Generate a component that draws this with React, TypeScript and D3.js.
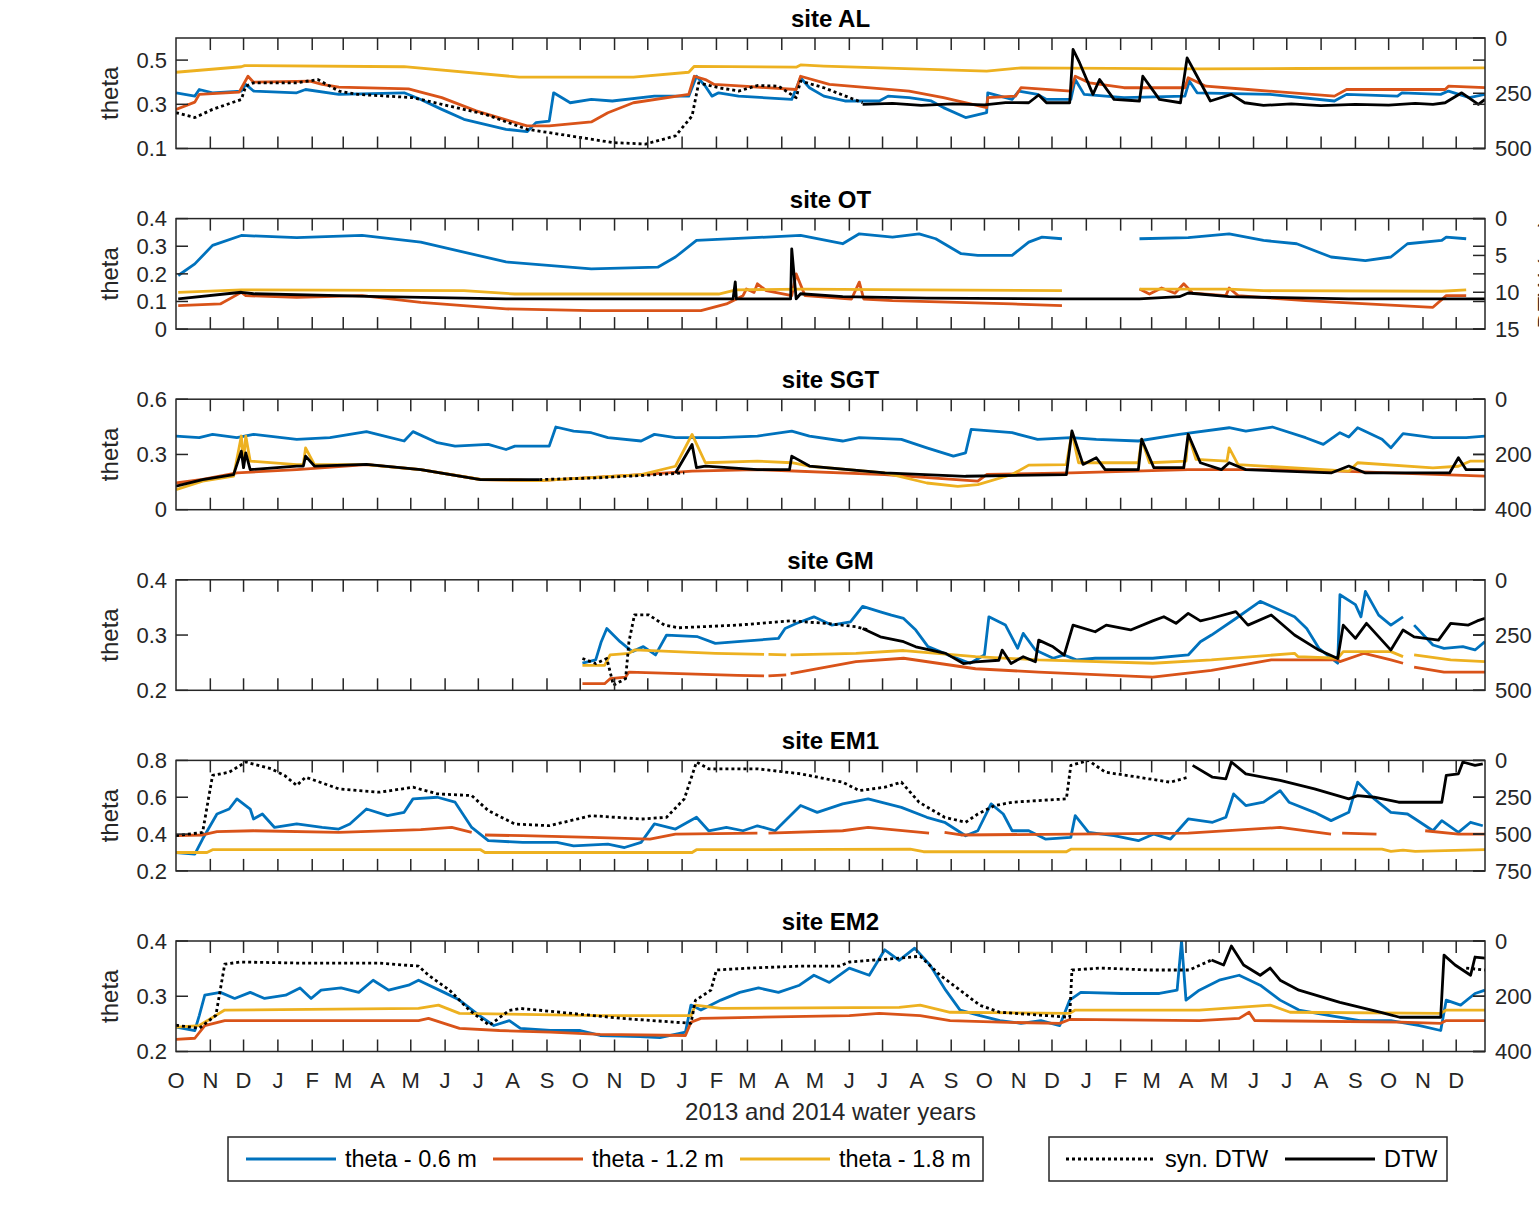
import * as d3 from 'd3';

type Pt = [string, number | null];

// ---------- axes / labels ----------
const MONTH_LETTERS = ['J', 'F', 'M', 'A', 'M', 'J', 'J', 'A', 'S', 'O', 'N', 'D'];
const X_START = '2012-10-01';
const X_END = '2015-12-27';
const X_LABEL = '2013 and 2014 water years';
const THETA_LABEL = 'theta';
const DTW_LABEL = 'DTW (cm)';
const SITES = ['site AL', 'site OT', 'site SGT', 'site GM', 'site EM1', 'site EM2'];
const THETA_DOMAINS = [[0.1, 0.6], [0, 0.4], [0, 0.6], [0.2, 0.4], [0.2, 0.8], [0.2, 0.4]];
const THETA_TICKS = [[0.1, 0.3, 0.5], [0, 0.1, 0.2, 0.3, 0.4], [0, 0.3, 0.6], [0.2, 0.3, 0.4], [0.2, 0.4, 0.6, 0.8], [0.2, 0.3, 0.4]];
const DTW_DOMAINS = [[0, 500], [0, 15], [0, 400], [0, 500], [0, 750], [0, 400]];
const DTW_TICKS = [[0, 250, 500], [0, 5, 10, 15], [0, 200, 400], [0, 250, 500], [0, 250, 500, 750], [0, 200, 400]];
const THETA_NAMES = ['theta - 0.6 m', 'theta - 1.2 m', 'theta - 1.8 m'];
const DTW_NAMES = ['syn. DTW', 'DTW'];

// ---------- site AL ----------
const AL_T06: Pt[] = [['2012-10-01', 0.352], ['2012-10-18', 0.337], ['2012-10-22', 0.367], ['2012-11-03', 0.352], ['2012-11-29', 0.36], ['2012-12-03', 0.39], ['2012-12-10', 0.36], ['2013-01-18', 0.352], ['2013-01-26', 0.367], ['2013-02-25', 0.345], ['2013-04-25', 0.352], ['2013-05-10', 0.322], ['2013-05-29', 0.277], ['2013-06-18', 0.232], ['2013-07-26', 0.187], ['2013-08-14', 0.176], ['2013-08-22', 0.217], ['2013-09-03', 0.224], ['2013-09-07', 0.352], ['2013-09-22', 0.307], ['2013-10-11', 0.322], ['2013-10-30', 0.315], ['2013-12-07', 0.337], ['2014-01-07', 0.337], ['2014-01-14', 0.427], ['2014-01-22', 0.382], ['2014-01-28', 0.337], ['2014-02-03', 0.352], ['2014-02-21', 0.337], ['2014-04-10', 0.322], ['2014-04-18', 0.42], ['2014-04-26', 0.375], ['2014-05-09', 0.337], ['2014-05-28', 0.315], ['2014-06-28', 0.315], ['2014-07-06', 0.337], ['2014-07-25', 0.33], ['2014-08-14', 0.315], ['2014-08-25', 0.285], ['2014-09-14', 0.24], ['2014-10-03', 0.262], ['2014-10-04', 0.352], ['2014-10-26', 0.322], ['2014-11-01', 0.36], ['2014-11-18', 0.345], ['2014-11-26', 0.322], ['2014-12-18', 0.322], ['2014-12-22', 0.412], ['2014-12-30', 0.345], ['2015-02-04', 0.33], ['2015-03-31', 0.337], ['2015-04-04', 0.405], ['2015-04-11', 0.352], ['2015-06-16', 0.345], ['2015-08-13', 0.315], ['2015-08-24', 0.345], ['2015-10-09', 0.337], ['2015-10-13', 0.352], ['2015-11-17', 0.345], ['2015-11-24', 0.36], ['2015-12-13', 0.33], ['2015-12-27', 0.345]];
const AL_T12: Pt[] = [['2012-10-01', 0.277], ['2012-10-18', 0.31], ['2012-10-22', 0.345], ['2012-11-27', 0.355], ['2012-12-05', 0.427], ['2012-12-10', 0.40], ['2013-01-30', 0.405], ['2013-02-10', 0.39], ['2013-02-25', 0.378], ['2013-04-29', 0.37], ['2013-05-10', 0.355], ['2013-05-29', 0.33], ['2013-06-29', 0.27], ['2013-08-14', 0.202], ['2013-09-03', 0.202], ['2013-10-11', 0.22], ['2013-10-26', 0.262], ['2013-11-18', 0.307], ['2014-01-07', 0.345], ['2014-01-12', 0.427], ['2014-01-22', 0.412], ['2014-01-30', 0.39], ['2014-02-25', 0.382], ['2014-04-14', 0.367], ['2014-04-18', 0.427], ['2014-05-14', 0.39], ['2014-07-25', 0.36], ['2014-08-25', 0.33], ['2014-10-03', 0.285], ['2014-10-04', 0.33], ['2014-10-29', 0.337], ['2014-11-03', 0.375], ['2014-12-18', 0.36], ['2014-12-22', 0.427], ['2015-01-04', 0.397], ['2015-02-04', 0.375], ['2015-03-31', 0.375], ['2015-04-03', 0.42], ['2015-04-19', 0.382], ['2015-05-27', 0.367], ['2015-08-13', 0.337], ['2015-08-24', 0.367], ['2015-11-21', 0.367], ['2015-11-24', 0.382], ['2015-12-27', 0.375]];
const AL_T18: Pt[] = [['2012-10-01', 0.445], ['2012-11-29', 0.47], ['2012-12-02', 0.475], ['2013-04-25', 0.47], ['2013-08-07', 0.423], ['2013-11-18', 0.423], ['2014-01-07', 0.445], ['2014-01-12', 0.472], ['2014-04-14', 0.468], ['2014-04-18', 0.478], ['2014-05-09', 0.473], ['2014-10-03', 0.45], ['2014-11-03', 0.465], ['2015-04-13', 0.46], ['2015-07-12', 0.462], ['2015-12-27', 0.465]];
const AL_SYN: Pt[] = [['2012-10-01', 338], ['2012-10-18', 360], ['2012-11-03', 323], ['2012-11-29', 278], ['2012-12-03', 218], ['2012-12-10', 203], ['2013-01-18', 203], ['2013-02-06', 188], ['2013-02-25', 240], ['2013-03-14', 255], ['2013-05-03', 270], ['2013-05-29', 300], ['2013-07-07', 345], ['2013-08-14', 413], ['2013-09-22', 443], ['2013-10-30', 473], ['2013-11-29', 480], ['2013-12-26', 443], ['2014-01-10', 353], ['2014-01-16', 203], ['2014-02-03', 225], ['2014-02-21', 240], ['2014-03-10', 215], ['2014-03-29', 218], ['2014-04-14', 270], ['2014-04-18', 195], ['2014-05-09', 225], ['2014-06-13', 293]];
const AL_DTW: Pt[] = [['2014-06-13', 300], ['2014-07-10', 296], ['2014-08-05', 305], ['2014-09-02', 298], ['2014-10-01', 303], ['2014-10-20', 292], ['2014-11-10', 293], ['2014-11-19', 258], ['2014-11-26', 293], ['2014-12-17', 293], ['2014-12-20', 52], ['2014-12-26', 113], ['2015-01-07', 255], ['2015-01-13', 188], ['2015-01-26', 278], ['2015-02-18', 285], ['2015-02-21', 173], ['2015-03-08', 278], ['2015-03-27', 293], ['2015-04-02', 90], ['2015-04-11', 173], ['2015-04-23', 285], ['2015-05-12', 255], ['2015-05-24', 293], ['2015-06-10', 305], ['2015-07-05', 298], ['2015-08-01', 306], ['2015-09-01', 300], ['2015-10-01', 304], ['2015-10-25', 296], ['2015-11-10', 300], ['2015-11-21', 293], ['2015-12-06', 248], ['2015-12-21', 300], ['2015-12-27', 278]];

// ---------- site OT ----------
const OT_T06: Pt[] = [['2012-10-03', 0.194], ['2012-10-18', 0.236], ['2012-11-03', 0.303], ['2012-11-29', 0.339], ['2013-01-18', 0.331], ['2013-03-18', 0.339], ['2013-05-10', 0.315], ['2013-07-26', 0.243], ['2013-10-11', 0.218], ['2013-12-10', 0.224], ['2013-12-26', 0.261], ['2014-01-14', 0.321], ['2014-04-18', 0.339], ['2014-05-26', 0.309], ['2014-06-10', 0.345], ['2014-07-10', 0.333], ['2014-08-03', 0.345], ['2014-08-18', 0.327], ['2014-09-10', 0.273], ['2014-09-25', 0.267], ['2014-10-26', 0.267], ['2014-11-10', 0.315], ['2014-11-22', 0.333], ['2014-12-10', 0.327], ['2015-01-15', null], ['2015-02-18', 0.327], ['2015-04-03', 0.331], ['2015-05-10', 0.345], ['2015-06-10', 0.321], ['2015-07-10', 0.309], ['2015-08-10', 0.261], ['2015-09-10', 0.248], ['2015-10-03', 0.261], ['2015-10-18', 0.309], ['2015-11-18', 0.321], ['2015-11-22', 0.333], ['2015-12-10', 0.327]];
const OT_T12: Pt[] = [['2012-10-03', 0.085], ['2012-11-10', 0.091], ['2012-11-29', 0.133], ['2012-12-03', 0.121], ['2013-01-18', 0.115], ['2013-03-18', 0.121], ['2013-05-10', 0.097], ['2013-07-26', 0.073], ['2013-10-11', 0.067], ['2014-01-18', 0.067], ['2014-02-10', 0.091], ['2014-02-25', 0.121], ['2014-02-28', 0.145], ['2014-03-07', 0.133], ['2014-03-10', 0.164], ['2014-03-18', 0.139], ['2014-04-10', 0.121], ['2014-04-14', 0.2], ['2014-04-22', 0.121], ['2014-06-03', 0.109], ['2014-06-10', 0.17], ['2014-06-14', 0.109], ['2014-07-10', 0.103], ['2014-10-26', 0.091], ['2014-12-10', 0.085], ['2015-01-15', null], ['2015-02-18', 0.145], ['2015-02-27', 0.127], ['2015-03-10', 0.149], ['2015-03-22', 0.13], ['2015-03-30', 0.164], ['2015-04-07', 0.13], ['2015-05-07', 0.121], ['2015-05-10', 0.149], ['2015-05-18', 0.121], ['2015-07-18', 0.103], ['2015-11-10', 0.079], ['2015-11-22', 0.121], ['2015-12-10', 0.121]];
const OT_T18: Pt[] = [['2012-10-03', 0.133], ['2012-11-29', 0.142], ['2013-06-18', 0.139], ['2013-08-03', 0.127], ['2014-02-03', 0.127], ['2014-02-16', 0.139], ['2014-02-19', 0.142], ['2014-04-18', 0.145], ['2014-08-03', 0.142], ['2014-12-10', 0.139], ['2015-01-15', null], ['2015-02-18', 0.145], ['2015-05-10', 0.145], ['2015-06-10', 0.139], ['2015-11-18', 0.137], ['2015-12-10', 0.142]];
const OT_SYN: Pt[] = [];
const OT_DTW: Pt[] = [['2012-10-03', 10.9], ['2012-11-29', 10.0], ['2012-12-10', 10.2], ['2013-02-25', 10.45], ['2013-04-03', 10.6], ['2013-07-26', 10.9], ['2014-02-16', 10.9], ['2014-02-18', 8.6], ['2014-02-19', 10.9], ['2014-04-09', 10.9], ['2014-04-10', 4.1], ['2014-04-14', 10.9], ['2014-04-18', 10.2], ['2014-05-26', 10.6], ['2014-08-10', 10.8], ['2014-12-10', 10.9], ['2015-02-18', 10.9], ['2015-03-26', 10.6], ['2015-04-03', 10.1], ['2015-05-10', 10.6], ['2015-08-26', 10.9], ['2015-12-27', 10.9]];

// ---------- site SGT ----------
const SGT_T06: Pt[] = [['2012-10-01', 0.40], ['2012-10-22', 0.391], ['2012-11-03', 0.409], ['2012-11-25', 0.391], ['2012-12-10', 0.409], ['2013-01-18', 0.382], ['2013-02-17', 0.391], ['2013-03-22', 0.424], ['2013-04-10', 0.395], ['2013-04-25', 0.373], ['2013-05-03', 0.424], ['2013-05-25', 0.364], ['2013-06-10', 0.345], ['2013-07-10', 0.355], ['2013-07-26', 0.327], ['2013-08-03', 0.345], ['2013-09-03', 0.345], ['2013-09-09', 0.449], ['2013-09-25', 0.427], ['2013-10-11', 0.418], ['2013-10-26', 0.391], ['2013-11-25', 0.373], ['2013-12-07', 0.409], ['2013-12-26', 0.391], ['2014-02-03', 0.391], ['2014-03-10', 0.40], ['2014-04-10', 0.427], ['2014-04-26', 0.40], ['2014-05-26', 0.373], ['2014-06-10', 0.391], ['2014-07-18', 0.382], ['2014-08-10', 0.336], ['2014-09-03', 0.291], ['2014-09-14', 0.309], ['2014-09-19', 0.436], ['2014-10-26', 0.418], ['2014-11-18', 0.382], ['2014-12-18', 0.391], ['2015-01-10', 0.382], ['2015-02-17', 0.373], ['2015-03-26', 0.409], ['2015-05-10', 0.445], ['2015-05-25', 0.427], ['2015-06-18', 0.449], ['2015-07-18', 0.391], ['2015-08-03', 0.355], ['2015-08-18', 0.418], ['2015-08-26', 0.395], ['2015-09-03', 0.445], ['2015-09-25', 0.382], ['2015-10-03', 0.336], ['2015-10-14', 0.413], ['2015-11-10', 0.391], ['2015-12-10', 0.391], ['2015-12-27', 0.40]];
const SGT_T12: Pt[] = [['2012-10-01', 0.145], ['2012-10-25', 0.164], ['2012-11-25', 0.20], ['2013-01-18', 0.218], ['2013-03-22', 0.245], ['2013-05-10', 0.218], ['2013-07-03', 0.164], ['2013-08-25', 0.158], ['2013-11-25', 0.191], ['2014-01-10', 0.209], ['2014-03-10', 0.218], ['2014-07-03', 0.191], ['2014-09-25', 0.155], ['2014-10-03', 0.191], ['2014-12-18', 0.20], ['2015-04-03', 0.218], ['2015-07-10', 0.218], ['2015-10-03', 0.20], ['2015-12-27', 0.182]];
const SGT_T18: Pt[] = [['2012-10-01', 0.109], ['2012-10-25', 0.155], ['2012-11-22', 0.182], ['2012-11-29', 0.40], ['2012-12-01', 0.264], ['2012-12-03', 0.40], ['2012-12-07', 0.264], ['2013-01-18', 0.245], ['2013-01-24', 0.245], ['2013-01-26', 0.336], ['2013-02-03', 0.245], ['2013-03-22', 0.245], ['2013-05-10', 0.218], ['2013-07-03', 0.164], ['2013-08-25', 0.158], ['2013-11-25', 0.191], ['2013-12-26', 0.236], ['2014-01-10', 0.409], ['2014-01-22', 0.255], ['2014-03-10', 0.264], ['2014-04-10', 0.255], ['2014-04-26', 0.236], ['2014-07-03', 0.20], ['2014-08-10', 0.145], ['2014-09-07', 0.127], ['2014-09-25', 0.136], ['2014-10-26', 0.191], ['2014-11-10', 0.242], ['2014-12-14', 0.245], ['2014-12-19', 0.418], ['2014-12-25', 0.255], ['2015-02-17', 0.255], ['2015-02-20', 0.382], ['2015-02-27', 0.255], ['2015-04-01', 0.264], ['2015-04-03', 0.409], ['2015-04-10', 0.273], ['2015-05-08', 0.264], ['2015-05-10', 0.336], ['2015-05-18', 0.245], ['2015-08-26', 0.209], ['2015-09-03', 0.255], ['2015-11-10', 0.227], ['2015-12-03', 0.236], ['2015-12-14', 0.264], ['2015-12-27', 0.264]];
const SGT_SYN: Pt[] = [['2013-08-25', 291], ['2013-10-15', 285], ['2013-12-01', 275], ['2014-01-03', 267]];
const SGT_DTW: Pt[] = [['2012-10-01', 315], ['2012-10-25', 291], ['2012-11-22', 273], ['2012-11-29', 188], ['2012-12-01', 248], ['2012-12-03', 194], ['2012-12-07', 255], ['2013-01-18', 242], ['2013-01-24', 242], ['2013-01-26', 206], ['2013-02-03', 242], ['2013-03-22', 236], ['2013-05-10', 255], ['2013-07-03', 291], ['2013-08-25', 291], ['2013-10-15', null], ['2013-12-26', 267], ['2014-01-10', 164], ['2014-01-14', 248], ['2014-01-22', 242], ['2014-03-10', 255], ['2014-04-08', 255], ['2014-04-10', 206], ['2014-04-26', 242], ['2014-07-03', 267], ['2014-09-14', 279], ['2014-12-14', 273], ['2014-12-19', 115], ['2014-12-29', 236], ['2015-01-10', 212], ['2015-01-18', 255], ['2015-02-17', 255], ['2015-02-20', 145], ['2015-03-03', 248], ['2015-03-30', 248], ['2015-04-03', 127], ['2015-04-14', 230], ['2015-05-03', 255], ['2015-05-10', 230], ['2015-05-25', 255], ['2015-08-10', 267], ['2015-08-26', 242], ['2015-09-10', 267], ['2015-11-25', 267], ['2015-12-03', 212], ['2015-12-10', 255], ['2015-12-27', 255]];

// ---------- site GM ----------
const GM_T06: Pt[] = [['2013-10-03', 0.249], ['2013-10-15', 0.255], ['2013-10-20', 0.288], ['2013-10-25', 0.312], ['2013-11-06', 0.288], ['2013-11-17', 0.27], ['2013-11-27', 0.279], ['2013-12-08', 0.264], ['2013-12-18', 0.30], ['2014-01-15', 0.297], ['2014-01-31', 0.285], ['2014-02-20', 0.288], ['2014-03-29', 0.294], ['2014-04-04', 0.312], ['2014-04-14', 0.321], ['2014-04-30', 0.333], ['2014-05-16', 0.318], ['2014-06-02', 0.324], ['2014-06-13', 0.352], ['2014-06-29', 0.342], ['2014-07-09', 0.336], ['2014-07-20', 0.33], ['2014-07-31', 0.309], ['2014-08-11', 0.279], ['2014-09-02', 0.261], ['2014-09-18', 0.249], ['2014-10-01', 0.264], ['2014-10-05', 0.333], ['2014-10-20', 0.318], ['2014-10-31', 0.276], ['2014-11-05', 0.303], ['2014-11-16', 0.273], ['2014-12-02', 0.258], ['2014-12-12', 0.264], ['2014-12-23', 0.255], ['2015-01-09', 0.258], ['2015-03-02', 0.258], ['2015-04-03', 0.264], ['2015-04-14', 0.288], ['2015-04-24', 0.30], ['2015-05-16', 0.33], ['2015-06-07', 0.361], ['2015-06-17', 0.352], ['2015-07-08', 0.333], ['2015-07-19', 0.312], ['2015-07-30', 0.276], ['2015-08-16', 0.249], ['2015-08-18', 0.373], ['2015-09-01', 0.355], ['2015-09-06', 0.333], ['2015-09-10', 0.379], ['2015-09-22', 0.336], ['2015-10-03', 0.318], ['2015-10-14', 0.333], ['2015-10-18', null], ['2015-10-24', 0.318], ['2015-11-10', 0.282], ['2015-11-20', 0.276], ['2015-12-07', 0.279], ['2015-12-18', 0.273], ['2015-12-27', 0.288]];
const GM_T12: Pt[] = [['2013-10-03', 0.212], ['2013-10-23', 0.212], ['2013-10-28', 0.221], ['2013-11-11', 0.224], ['2013-11-14', 0.233], ['2014-02-20', 0.227], ['2014-03-16', 0.226], ['2014-03-18', null], ['2014-03-20', 0.226], ['2014-04-05', 0.228], ['2014-04-07', null], ['2014-04-09', 0.23], ['2014-06-07', 0.252], ['2014-07-20', 0.258], ['2014-09-23', 0.239], ['2014-11-19', 0.233], ['2015-03-02', 0.224], ['2015-04-24', 0.236], ['2015-06-17', 0.255], ['2015-08-16', 0.255], ['2015-08-18', 0.252], ['2015-09-09', 0.267], ['2015-10-03', 0.255], ['2015-10-14', 0.249], ['2015-10-18', null], ['2015-10-24', 0.242], ['2015-11-20', 0.233], ['2015-12-27', 0.233]];
const GM_T18: Pt[] = [['2013-10-03', 0.245], ['2013-10-23', 0.245], ['2013-10-28', 0.264], ['2013-11-14', 0.267], ['2013-11-19', 0.273], ['2014-01-31', 0.267], ['2014-03-16', 0.265], ['2014-03-18', null], ['2014-03-20', 0.265], ['2014-04-05', 0.264], ['2014-04-07', null], ['2014-04-09', 0.264], ['2014-06-07', 0.267], ['2014-07-20', 0.272], ['2014-09-23', 0.261], ['2014-11-19', 0.255], ['2015-03-02', 0.249], ['2015-04-24', 0.255], ['2015-07-08', 0.267], ['2015-07-11', 0.261], ['2015-08-16', 0.258], ['2015-08-21', 0.27], ['2015-10-03', 0.27], ['2015-10-14', 0.261], ['2015-10-18', null], ['2015-10-24', 0.264], ['2015-11-26', 0.255], ['2015-12-27', 0.252]];
const GM_SYN: Pt[] = [['2013-10-03', 356], ['2013-10-15', 379], ['2013-10-25', 356], ['2013-10-31', 477], ['2013-11-11', 447], ['2013-11-14', 280], ['2013-11-19', 159], ['2013-12-02', 159], ['2013-12-16', 205], ['2013-12-29', 217], ['2014-02-20', 205], ['2014-04-09', 186], ['2014-05-11', 197], ['2014-06-07', 212], ['2014-06-18', 227]];
const GM_DTW: Pt[] = [['2014-06-13', 220], ['2014-06-29', 258], ['2014-07-20', 280], ['2014-07-31', 303], ['2014-08-27', 333], ['2014-09-12', 379], ['2014-09-23', 371], ['2014-10-14', 364], ['2014-10-17', 318], ['2014-10-25', 379], ['2014-11-05', 348], ['2014-11-16', 371], ['2014-11-19', 273], ['2014-12-02', 303], ['2014-12-12', 341], ['2014-12-20', 205], ['2015-01-09', 235], ['2015-01-19', 205], ['2015-02-10', 227], ['2015-03-02', 186], ['2015-03-12', 167], ['2015-03-23', 197], ['2015-04-03', 152], ['2015-04-14', 186], ['2015-04-24', 174], ['2015-05-16', 144], ['2015-05-27', 205], ['2015-06-17', 159], ['2015-07-08', 250], ['2015-07-30', 318], ['2015-08-16', 356], ['2015-08-21', 205], ['2015-09-01', 265], ['2015-09-11', 197], ['2015-10-03', 318], ['2015-10-14', 227], ['2015-10-24', 258], ['2015-11-15', 273], ['2015-11-26', 197], ['2015-12-12', 205], ['2015-12-20', 186], ['2015-12-27', 174]];

// ---------- site EM1 ----------
const EM1_T06: Pt[] = [['2012-10-01', 0.30], ['2012-10-18', 0.291], ['2012-10-25', 0.373], ['2012-11-07', 0.509], ['2012-11-18', 0.536], ['2012-11-25', 0.591], ['2012-12-07', 0.536], ['2012-12-10', 0.482], ['2012-12-18', 0.509], ['2012-12-29', 0.436], ['2013-01-18', 0.455], ['2013-02-10', 0.436], ['2013-02-25', 0.427], ['2013-03-07', 0.455], ['2013-03-22', 0.536], ['2013-04-10', 0.50], ['2013-04-25', 0.518], ['2013-05-03', 0.591], ['2013-05-25', 0.60], ['2013-06-10', 0.573], ['2013-06-25', 0.436], ['2013-07-10', 0.364], ['2013-08-10', 0.355], ['2013-09-10', 0.355], ['2013-09-25', 0.336], ['2013-10-26', 0.345], ['2013-11-10', 0.327], ['2013-11-25', 0.355], ['2013-12-07', 0.455], ['2013-12-26', 0.427], ['2014-01-14', 0.491], ['2014-01-25', 0.418], ['2014-02-10', 0.436], ['2014-02-25', 0.418], ['2014-03-10', 0.445], ['2014-03-26', 0.418], ['2014-04-18', 0.555], ['2014-05-03', 0.518], ['2014-05-26', 0.564], ['2014-06-18', 0.591], ['2014-07-18', 0.545], ['2014-08-10', 0.491], ['2014-08-26', 0.464], ['2014-09-14', 0.391], ['2014-09-25', 0.418], ['2014-10-07', 0.564], ['2014-10-18', 0.509], ['2014-10-26', 0.418], ['2014-11-10', 0.418], ['2014-11-25', 0.373], ['2014-12-18', 0.382], ['2014-12-22', 0.50], ['2015-01-03', 0.409], ['2015-01-26', 0.391], ['2015-02-17', 0.364], ['2015-03-03', 0.40], ['2015-03-18', 0.373], ['2015-04-03', 0.482], ['2015-04-25', 0.464], ['2015-05-07', 0.491], ['2015-05-14', 0.618], ['2015-05-25', 0.555], ['2015-06-10', 0.573], ['2015-06-25', 0.636], ['2015-07-03', 0.573], ['2015-07-26', 0.518], ['2015-08-10', 0.473], ['2015-08-26', 0.518], ['2015-09-03', 0.682], ['2015-09-18', 0.591], ['2015-10-03', 0.518], ['2015-10-18', 0.509], ['2015-10-25', 0.482], ['2015-11-10', 0.418], ['2015-11-18', 0.473], ['2015-12-03', 0.409], ['2015-12-14', 0.464], ['2015-12-25', 0.445]];
const EM1_T12: Pt[] = [['2012-10-01', 0.391], ['2012-10-25', 0.395], ['2012-11-07', 0.413], ['2012-12-10', 0.418], ['2013-02-25', 0.409], ['2013-05-10', 0.424], ['2013-06-07', 0.436], ['2013-06-25', 0.409], ['2013-06-30', null], ['2013-07-07', 0.395], ['2013-08-10', 0.391], ['2013-10-11', 0.382], ['2013-12-03', 0.373], ['2013-12-26', 0.40], ['2014-03-10', 0.405], ['2014-03-14', null], ['2014-03-20', 0.405], ['2014-05-26', 0.418], ['2014-06-18', 0.436], ['2014-08-12', 0.405], ['2014-08-18', null], ['2014-08-26', 0.409], ['2014-09-10', 0.395], ['2014-12-18', 0.40], ['2015-04-03', 0.405], ['2015-06-25', 0.436], ['2015-08-10', 0.40], ['2015-08-14', null], ['2015-08-20', 0.405], ['2015-09-20', 0.40], ['2015-10-01', null], ['2015-11-03', 0.418], ['2015-12-03', 0.40], ['2015-12-27', 0.40]];
const EM1_T18: Pt[] = [['2012-10-01', 0.30], ['2012-10-29', 0.30], ['2012-11-03', 0.315], ['2013-07-03', 0.315], ['2013-07-07', 0.30], ['2014-01-10', 0.30], ['2014-01-14', 0.315], ['2014-07-26', 0.318], ['2014-08-07', 0.304], ['2014-12-14', 0.304], ['2014-12-18', 0.318], ['2015-09-25', 0.318], ['2015-10-03', 0.306], ['2015-10-14', 0.313], ['2015-10-25', 0.306], ['2015-12-27', 0.315]];
const EM1_SYN: Pt[] = [['2012-10-01', 511], ['2012-10-25', 489], ['2012-11-03', 102], ['2012-11-18', 80], ['2012-12-03', 11], ['2012-12-26', 57], ['2013-01-07', 102], ['2013-01-18', 170], ['2013-01-26', 114], ['2013-02-25', 193], ['2013-04-03', 216], ['2013-05-03', 182], ['2013-05-25', 227], ['2013-06-25', 239], ['2013-07-10', 341], ['2013-08-03', 432], ['2013-09-03', 443], ['2013-10-11', 375], ['2013-11-25', 398], ['2013-12-18', 386], ['2014-01-03', 261], ['2014-01-14', 11], ['2014-01-25', 57], ['2014-03-10', 57], ['2014-04-18', 91], ['2014-05-26', 148], ['2014-06-10', 205], ['2014-07-03', 182], ['2014-07-18', 148], ['2014-08-03', 284], ['2014-08-26', 386], ['2014-09-14', 420], ['2014-09-25', 364], ['2014-10-10', 307], ['2014-10-26', 284], ['2014-12-14', 261], ['2014-12-18', 34], ['2015-01-03', 0], ['2015-01-18', 80], ['2015-02-17', 114], ['2015-03-18', 148], ['2015-04-03', 114]];
const EM1_DTW: Pt[] = [['2015-04-07', 34], ['2015-04-25', 114], ['2015-05-07', 125], ['2015-05-12', 11], ['2015-05-25', 91], ['2015-06-25', 136], ['2015-07-26', 193], ['2015-08-26', 261], ['2015-09-03', 239], ['2015-09-18', 250], ['2015-10-10', 284], ['2015-11-18', 284], ['2015-11-22', 102], ['2015-12-03', 91], ['2015-12-07', 11], ['2015-12-18', 34], ['2015-12-25', 23]];

// ---------- site EM2 ----------
const EM2_T06: Pt[] = [['2012-10-01', 0.244], ['2012-10-18', 0.238], ['2012-10-22', 0.265], ['2012-10-27', 0.302], ['2012-11-10', 0.307], ['2012-11-23', 0.296], ['2012-12-07', 0.307], ['2012-12-20', 0.296], ['2013-01-08', 0.302], ['2013-01-21', 0.315], ['2013-01-31', 0.296], ['2013-02-09', 0.311], ['2013-02-27', 0.315], ['2013-03-15', 0.307], ['2013-03-28', 0.329], ['2013-04-11', 0.311], ['2013-04-29', 0.32], ['2013-05-08', 0.329], ['2013-05-31', 0.307], ['2013-06-14', 0.293], ['2013-07-02', 0.265], ['2013-07-15', 0.247], ['2013-07-29', 0.256], ['2013-08-08', 0.242], ['2013-09-04', 0.238], ['2013-10-01', 0.238], ['2013-10-19', 0.229], ['2013-11-24', 0.227], ['2013-12-12', 0.225], ['2014-01-04', 0.235], ['2014-01-09', 0.284], ['2014-01-18', 0.275], ['2014-02-05', 0.293], ['2014-02-22', 0.307], ['2014-03-11', 0.315], ['2014-03-29', 0.307], ['2014-04-17', 0.32], ['2014-04-30', 0.338], ['2014-05-14', 0.325], ['2014-06-01', 0.351], ['2014-06-19', 0.338], ['2014-07-03', 0.384], ['2014-07-16', 0.365], ['2014-07-30', 0.387], ['2014-08-13', 0.356], ['2014-08-27', 0.311], ['2014-09-09', 0.275], ['2014-09-27', 0.265], ['2014-10-15', 0.256], ['2014-11-03', 0.251], ['2014-11-21', 0.256], ['2014-12-08', 0.247], ['2014-12-17', 0.293], ['2014-12-27', 0.307], ['2015-02-02', 0.305], ['2015-03-08', 0.305], ['2015-03-24', 0.311], ['2015-03-28', 0.40], ['2015-04-01', 0.293], ['2015-04-13', 0.311], ['2015-05-01', 0.329], ['2015-05-19', 0.338], ['2015-06-07', 0.32], ['2015-06-25', 0.293], ['2015-07-12', 0.275], ['2015-08-09', 0.265], ['2015-09-05', 0.256], ['2015-10-03', 0.256], ['2015-10-29', 0.247], ['2015-11-17', 0.238], ['2015-11-22', 0.293], ['2015-12-05', 0.284], ['2015-12-18', 0.305], ['2015-12-27', 0.311]];
const EM2_T12: Pt[] = [['2012-10-01', 0.222], ['2012-10-18', 0.224], ['2012-10-27', 0.247], ['2012-11-14', 0.256], ['2013-05-08', 0.256], ['2013-05-17', 0.26], ['2013-06-14', 0.242], ['2013-07-20', 0.238], ['2013-09-04', 0.235], ['2013-10-19', 0.231], ['2014-01-04', 0.229], ['2014-01-09', 0.253], ['2014-01-18', 0.26], ['2014-06-01', 0.265], ['2014-06-28', 0.269], ['2014-08-04', 0.265], ['2014-08-31', 0.256], ['2014-10-15', 0.253], ['2014-12-08', 0.251], ['2014-12-17', 0.258], ['2015-04-13', 0.256], ['2015-05-19', 0.26], ['2015-05-28', 0.271], ['2015-06-02', 0.256], ['2015-10-11', 0.253], ['2015-11-17', 0.251], ['2015-11-22', 0.256], ['2015-12-27', 0.256]];
const EM2_T18: Pt[] = [['2012-10-01', 0.244], ['2012-10-22', 0.247], ['2012-11-14', 0.275], ['2013-05-08', 0.278], ['2013-05-26', 0.284], ['2013-06-14', 0.269], ['2013-10-19', 0.265], ['2014-01-09', 0.265], ['2014-01-13', 0.284], ['2014-02-05', 0.278], ['2014-07-16', 0.28], ['2014-08-04', 0.284], ['2014-08-31', 0.271], ['2014-12-17', 0.269], ['2014-12-22', 0.275], ['2015-04-13', 0.275], ['2015-06-16', 0.284], ['2015-07-04', 0.271], ['2015-11-17', 0.269], ['2015-11-22', 0.275], ['2015-12-27', 0.275]];
const EM2_SYN: Pt[] = [['2012-10-01', 305], ['2012-10-22', 316], ['2012-11-06', 269], ['2012-11-14', 84], ['2012-11-28', 76], ['2013-01-21', 80], ['2013-04-02', 80], ['2013-05-08', 91], ['2013-05-17', 124], ['2013-06-05', 178], ['2013-06-23', 251], ['2013-07-11', 305], ['2013-07-29', 251], ['2013-08-08', 244], ['2013-09-13', 258], ['2013-11-07', 280], ['2014-01-09', 298], ['2014-01-13', 215], ['2014-01-27', 178], ['2014-02-01', 105], ['2014-03-03', 98], ['2014-04-17', 91], ['2014-05-23', 91], ['2014-06-01', 76], ['2014-07-16', 62], ['2014-08-04', 55], ['2014-08-22', 124], ['2014-09-09', 178], ['2014-09-27', 233], ['2014-10-15', 258], ['2014-12-17', 276], ['2014-12-19', 105], ['2015-01-14', 98], ['2015-02-27', 105], ['2015-04-04', 105], ['2015-04-24', 69], ['2015-08-01', null], ['2015-12-10', 98], ['2015-12-27', 105]];
const EM2_DTW: Pt[] = [['2015-04-24', 69], ['2015-05-05', 87], ['2015-05-12', 18], ['2015-05-23', 87], ['2015-06-07', 124], ['2015-06-16', 98], ['2015-06-25', 142], ['2015-07-12', 178], ['2015-08-18', 222], ['2015-09-24', 258], ['2015-10-11', 276], ['2015-11-17', 276], ['2015-11-20', 51], ['2015-11-30', 87], ['2015-12-14', 124], ['2015-12-18', 58], ['2015-12-27', 62]];

const PANEL_SERIES: Pt[][][] = [
  [AL_T06, AL_T12, AL_T18, AL_SYN, AL_DTW],
  [OT_T06, OT_T12, OT_T18, OT_SYN, OT_DTW],
  [SGT_T06, SGT_T12, SGT_T18, SGT_SYN, SGT_DTW],
  [GM_T06, GM_T12, GM_T18, GM_SYN, GM_DTW],
  [EM1_T06, EM1_T12, EM1_T18, EM1_SYN, EM1_DTW],
  [EM2_T06, EM2_T12, EM2_T18, EM2_SYN, EM2_DTW],
];

// ---------- layout ----------
const W = 1539;
const H = 1206;
const LEFT = 176;
const RIGHT = 1485;
const TOP0 = 38;
const STEP = 180.6;
const PH = 110.5;
const TL = 12; // tick length
const COLORS = ['#0072BD', '#D95319', '#EDB120'];
const AXIS = '#262626';
const FONT = '"Liberation Sans", Arial, Helvetica, sans-serif';
const FS = 22;

const parse = d3.timeParse('%Y-%m-%d');
const x = d3.scaleTime().domain([parse(X_START)!, parse(X_END)!]).range([LEFT, RIGHT]);
const months = d3.timeMonth.range(parse(X_START)!, parse(X_END)!);

function Panel({ i }: { i: number }) {
  const top = TOP0 + i * STEP;
  const bottom = top + PH;
  const yT = d3.scaleLinear().domain(THETA_DOMAINS[i]).range([bottom, top]);
  const yD = d3.scaleLinear().domain(DTW_DOMAINS[i]).range([top, bottom]);
  const lineT = d3.line<Pt>().defined((d) => d[1] != null).x((d) => x(parse(d[0])!)).y((d) => yT(d[1] as number));
  const lineD = d3.line<Pt>().defined((d) => d[1] != null).x((d) => x(parse(d[0])!)).y((d) => yD(d[1] as number));
  const [t06, t12, t18, syn, dtw] = PANEL_SERIES[i];
  const midY = (top + bottom) / 2;
  // the right-hand axis label sits past the page edge; only the OT one (short tick labels) peeks in
  const maxTickW = d3.max(DTW_TICKS[i], (v) => String(v).length)! * 0.556 * FS;
  const showDtwLabel = maxTickW < 30;

  return (
    <g>
      <defs>
        <clipPath id={`clip${i}`}>
          <rect x={LEFT} y={top} width={RIGHT - LEFT} height={PH} />
        </clipPath>
      </defs>
      <g clipPath={`url(#clip${i})`} fill="none" strokeLinejoin="round">
        {[t06, t12, t18].map((s, k) => (
          <path key={k} d={lineT(s) ?? ''} stroke={COLORS[k]} strokeWidth={2.8} />
        ))}
        {syn.length > 0 && <path d={lineD(syn) ?? ''} stroke="#000" strokeWidth={2.8} strokeDasharray="3,3" />}
        <path d={lineD(dtw) ?? ''} stroke="#000" strokeWidth={2.8} />
      </g>
      <rect x={LEFT} y={top} width={RIGHT - LEFT} height={PH} fill="none" stroke={AXIS} strokeWidth={1.5} />
      {months.slice(1).map((m, k) => (
        <g key={k} stroke={AXIS} strokeWidth={1.5}>
          <line x1={x(m)} x2={x(m)} y1={top} y2={top + TL} />
          <line x1={x(m)} x2={x(m)} y1={bottom} y2={bottom - TL} />
        </g>
      ))}
      {THETA_TICKS[i].map((v) => (
        <g key={`t${v}`}>
          <line x1={LEFT} x2={LEFT + TL} y1={yT(v)} y2={yT(v)} stroke={AXIS} strokeWidth={1.5} />
          <line x1={RIGHT} x2={RIGHT - TL} y1={yT(v)} y2={yT(v)} stroke={AXIS} strokeWidth={1.5} />
          <text x={LEFT - 9} y={yT(v)} dy="0.35em" textAnchor="end" fontSize={FS} fill={AXIS}>{String(v)}</text>
        </g>
      ))}
      {DTW_TICKS[i].map((v) => (
        <g key={`d${v}`}>
          <line x1={RIGHT} x2={RIGHT - TL} y1={yD(v)} y2={yD(v)} stroke={AXIS} strokeWidth={1.5} />
          <text x={RIGHT + 10} y={yD(v)} dy="0.35em" textAnchor="start" fontSize={FS} fill={AXIS}>{String(v)}</text>
        </g>
      ))}
      <text transform={`translate(118,${midY}) rotate(-90)`} textAnchor="middle" fontSize={24} fill={AXIS}>{THETA_LABEL}</text>
      {showDtwLabel && (
        <text transform={`translate(${RIGHT + 10 + maxTickW + 36},${midY}) rotate(-90)`} textAnchor="middle" fontSize={24} fill={AXIS}>{DTW_LABEL}</text>
      )}
      <text x={(LEFT + RIGHT) / 2} y={top - 11} textAnchor="middle" fontSize={24} fontWeight="bold" fill="#000">{SITES[i]}</text>
    </g>
  );
}

export default function App() {
  const lastBottom = TOP0 + 5 * STEP + PH;
  const legY = 1159;
  return (
    <svg width={W} height={H} style={{ position: 'absolute', left: 0, top: 0, background: '#fff' }} fontFamily={FONT}>
      <rect width={W} height={H} fill="#fff" />
      {SITES.map((_, i) => (
        <Panel key={i} i={i} />
      ))}
      {months.map((m, k) => (
        <text key={k} x={x(m)} y={lastBottom + 36} textAnchor="middle" fontSize={FS} fill={AXIS}>
          {MONTH_LETTERS[m.getMonth()]}
        </text>
      ))}
      <text x={(LEFT + RIGHT) / 2} y={lastBottom + 68} textAnchor="middle" fontSize={24} fill={AXIS}>{X_LABEL}</text>

      <rect x={228} y={1137} width={755} height={44} fill="#fff" stroke={AXIS} strokeWidth={1.5} />
      {THETA_NAMES.map((name, k) => {
        const x0 = 246 + k * 247;
        return (
          <g key={name}>
            <line x1={x0} x2={x0 + 90} y1={legY} y2={legY} stroke={COLORS[k]} strokeWidth={2.8} />
            <text x={x0 + 99} y={legY} dy="0.35em" fontSize={23.5} fill="#000">{name}</text>
          </g>
        );
      })}
      <rect x={1049} y={1137} width={398} height={44} fill="#fff" stroke={AXIS} strokeWidth={1.5} />
      {DTW_NAMES.map((name, k) => {
        const x0 = 1066 + k * 219;
        return (
          <g key={name}>
            <line x1={x0} x2={x0 + 90} y1={legY} y2={legY} stroke="#000" strokeWidth={2.8} strokeDasharray={k === 0 ? '3,3' : undefined} />
            <text x={x0 + 99} y={legY} dy="0.35em" fontSize={23.5} fill="#000">{name}</text>
          </g>
        );
      })}
    </svg>
  );
}
